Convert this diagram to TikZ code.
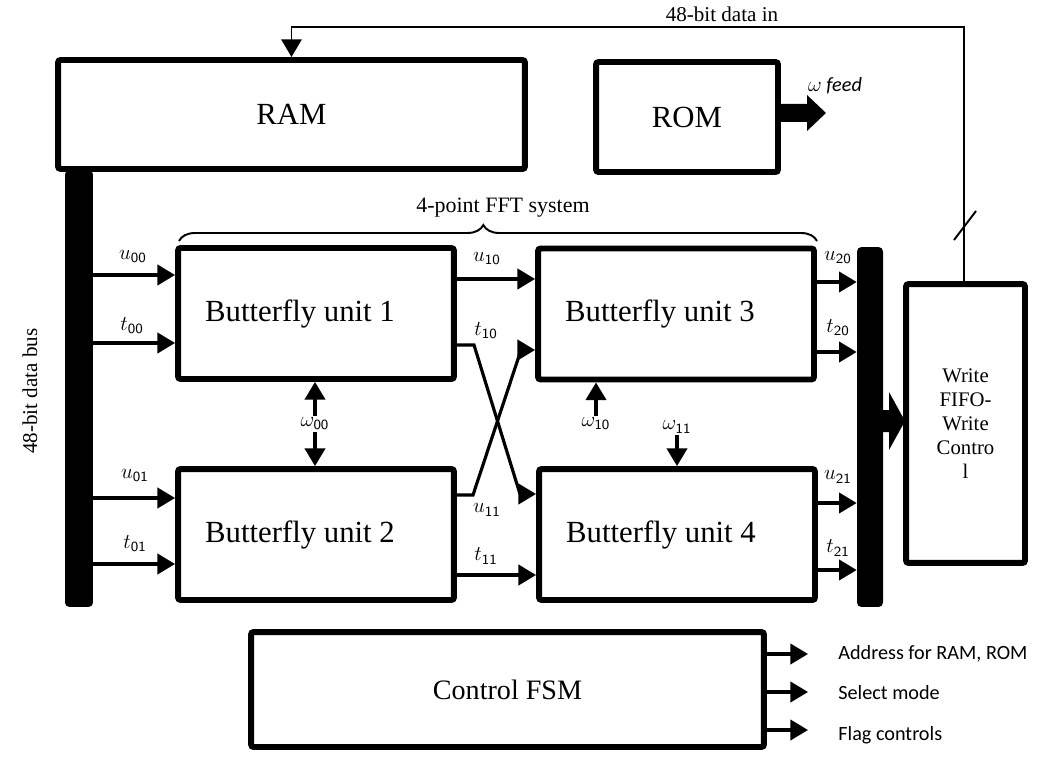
\documentclass[tikz,border=0pt]{standalone}
\usepackage{fontspec}
\setmainfont{Liberation Serif}
\newfontfamily\calibri{Carlito}
\usetikzlibrary{arrows.meta,decorations.pathreplacing}

\begin{document}
\begin{tikzpicture}[x=0.02cm,y=-0.02cm,>={Triangle[length=10pt,width=11.5pt]},
  box/.style={draw,line width=3.4pt,rounded corners=1.5pt,inner sep=0pt,font=\fontsize{17.5}{20}\selectfont},
  bus/.style={fill=black,rounded corners=2.5pt,inner sep=0pt},
  wire/.style={line width=1.8pt},
  thinwire/.style={line width=1.1pt},
  lbl/.style={font=\fontsize{12}{14}\selectfont,inner sep=1pt},
  note/.style={font=\calibri\fontsize{11.5}{13}\selectfont,anchor=west,inner sep=0pt}]

  \useasboundingbox (0,0) rectangle (1060,763);

  \node[bus,minimum width=0.56cm,minimum height=8.74cm] (lbus) at (79,388.5) {};
  \node[bus,minimum width=0.52cm,minimum height=7.2cm] (rbus) at (870,427) {};

  \node[box,minimum width=9.34cm,minimum height=2.18cm] (ram) at (291.5,114.5) {RAM};
  \node[box,minimum width=3.64cm,minimum height=2.2cm] (rom) at (687,117) {ROM};
  \node[box,minimum width=5.52cm,minimum height=2.62cm] (bu1) at (316,313.5) {\hspace*{-0.64cm}Butterfly unit 1};
  \node[box,minimum width=5.52cm,minimum height=2.62cm] (bu2) at (316,534.5) {\hspace*{-0.64cm}Butterfly unit 2};
  \node[box,minimum width=5.52cm,minimum height=2.62cm] (bu3) at (676,314) {\hspace*{-0.64cm}Butterfly unit 3};
  \node[box,minimum width=5.52cm,minimum height=2.62cm] (bu4) at (677,534.5) {\hspace*{-0.64cm}Butterfly unit 4};
  \node[box,minimum width=2.38cm,minimum height=5.58cm,align=center,font=\fontsize{11.8}{13.6}\selectfont] (fifo) at (965.5,423.5) {Write\\FIFO-\\Write\\Contro\\l};
  \node[box,minimum width=10.26cm,minimum height=2.3cm,font=\fontsize{16}{19}\selectfont] (fsm) at (507.5,689.5) {Control FSM};

  \node[font=\fontsize{12}{14}\selectfont] (ldin) at (722,14) {48-bit data in};
  \node[font=\fontsize{12.5}{14}\selectfont] (lfft) at (503,208) {4-point FFT system};
  \node[rotate=90,font=\fontsize{12}{14}\selectfont] (lbusl) at (30,391) {48-bit data bus};
  \node[font=\calibri\fontsize{11.5}{13}\selectfont] (lwf) at (835,86) {$\omega$ \textit{feed}};

  \node[lbl] (lu00) at (133,257) {$u_{\mathsf{00}}$};
  \node[lbl] (lt00) at (132,326) {$t_{\mathsf{00}}$};
  \node[lbl] (lu01) at (135,476) {$u_{\mathsf{01}}$};
  \node[lbl] (lt01) at (135,544) {$t_{\mathsf{01}}$};
  \node[lbl] (lu10) at (487,259) {$u_{\mathsf{10}}$};
  \node[lbl] (lt10) at (486,331) {$t_{\mathsf{10}}$};
  \node[lbl] (lu11) at (487,510) {$u_{\mathsf{11}}$};
  \node[lbl] (lt11) at (486,556) {$t_{\mathsf{11}}$};
  \node[lbl] (lu20) at (838,258) {$u_{\mathsf{20}}$};
  \node[lbl] (lt20) at (838,328) {$t_{\mathsf{20}}$};
  \node[lbl] (lu21) at (838,477) {$u_{\mathsf{21}}$};
  \node[lbl] (lt21) at (838,548) {$t_{\mathsf{21}}$};
  \node[lbl] (lw10) at (596,424) {$\omega_{\mathsf{10}}$};
  \node[lbl] (lw11) at (677,427) {$\omega_{\mathsf{11}}$};

  \node[note] (la1) at (838,654) {Address for RAM, ROM};
  \node[note] (la2) at (838,693) {Select mode};
  \node[note] (la3) at (838,735) {Flag controls};

  \coordinate (pu00) at (0,275);
  \coordinate (pt00) at (0,343);
  \coordinate (pu01) at (0,498);
  \coordinate (pt01) at (0,564);
  \coordinate (pu10) at (0,279);
  \coordinate (pt11) at (0,575);
  \coordinate (pu20) at (0,282);
  \coordinate (pt20) at (0,352);
  \coordinate (pu21) at (0,503);
  \coordinate (pt21) at (0,570);
  \coordinate (x1) at (474,345);
  \coordinate (x2) at (520,494);
  \coordinate (x3) at (473,495);
  \coordinate (x4) at (521,350);
  \coordinate (w00) at (315,424);
  \coordinate (din) at (964,27);
  \coordinate (br1) at (179,241);
  \coordinate (br2) at (817,241);
  \coordinate (o1) at (808,654);
  \coordinate (o2) at (808,692);
  \coordinate (o3) at (808,730);
  \coordinate (wf) at (781,113);
  \coordinate (ba) at (883,421);

  \path[wire,->]
    (lbus.east |- pu00) edge (bu1.west |- pu00)
    (lbus.east |- pt00) edge (bu1.west |- pt00)
    (lbus.east |- pu01) edge (bu2.west |- pu01)
    (lbus.east |- pt01) edge (bu2.west |- pt01)
    (bu1.east |- pu10) edge (bu3.west |- pu10)
    (bu2.east |- pt11) edge (bu4.west |- pt11)
    (bu3.east |- pu20) edge (rbus.west |- pu20)
    (bu3.east |- pt20) edge (rbus.west |- pt20)
    (bu4.east |- pu21) edge (rbus.west |- pu21)
    (bu4.east |- pt21) edge (rbus.west |- pt21)
    (fsm.east |- o1) edge (o1)
    (fsm.east |- o2) edge (o2)
    (fsm.east |- o3) edge (o3);

  \draw[wire,->] (bu1.east |- x1) -- (x1) -- (x2) -- (bu4.west |- x2);
  \draw[wire,->] (bu2.east |- x3) -- (x3) -- (x4) -- (bu3.west |- x4);

  \draw[wire,<->] (bu1.south -| w00) -- (bu2.north -| w00);
  \node[lbl,fill=white] (lw00) at (w00) {$\omega_{\mathsf{00}}$};
  \draw[wire,->] (lw10.north) -- (lw10.north |- bu3.south);
  \draw[wire,->] (lw11.south) -- (lw11.south |- bu4.north);

  \draw[thinwire,->] (fifo.north -| din) -- (din) -- (din -| ram.north) -- (ram.north);
  \draw[thinwire] (954,240) -- (976,211);
  \draw[thinwire,decorate,decoration={brace,amplitude=0.32cm,aspect=0.477}] (br1) -- (br2);

  \fill (wf) ++(0,-9) -- ++(26,0) -- ++(0,-9) -- ++(19,18) -- ++(-19,18) -- ++(0,-9) -- ++(-26,0) -- cycle;
  \fill (ba) ++(0,-11) -- ++(6,0) -- ++(0,-18) -- ++(16,29) -- ++(-16,29) -- ++(0,-18) -- ++(-6,0) -- cycle;

\end{tikzpicture}
\end{document}
